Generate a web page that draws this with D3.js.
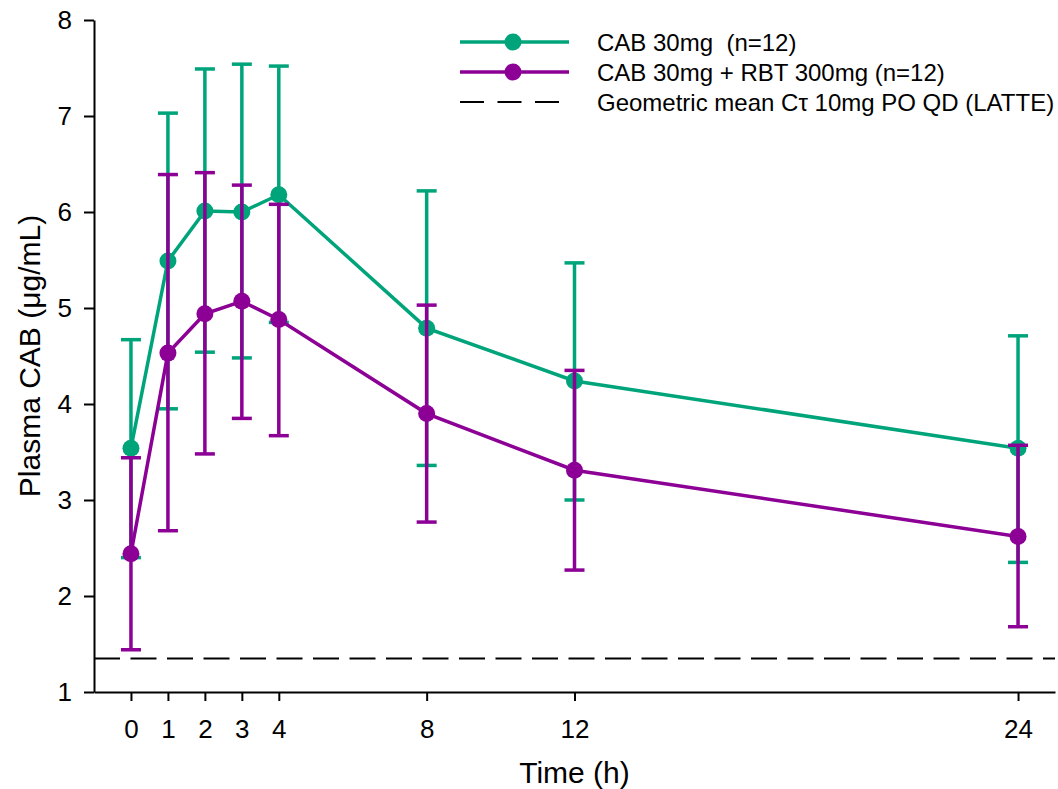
<!DOCTYPE html>
<html>
<head>
<meta charset="utf-8">
<script src="https://cdn.jsdelivr.net/npm/d3@7"></script>
<style>
  body { margin: 0; background: #fff; }
  svg { display: block; font-family: "Liberation Sans", Arial, sans-serif; }
  .axis path, .axis line { stroke: #000; }
  .axis text { fill: #000; }
</style>
</head>
<body>
<div id="chart"></div>
<script>
var times = [0, 1, 2, 3, 4, 8, 12, 24];
var xTicks = [0, 1, 2, 3, 4, 8, 12, 24];
var yTicks = [1, 2, 3, 4, 5, 6, 7, 8];

// CAB 30mg alone
var cabMean  = [3.54, 5.49, 6.01, 6.00, 6.18, 4.79, 4.24, 3.54];
var cabUpper = [4.67, 7.03, 7.49, 7.54, 7.52, 6.22, 5.47, 4.71];
var cabLower = [2.40, 3.95, 4.54, 4.48, 4.85, 3.36, 3.00, 2.35];

// CAB 30mg + RBT 300mg
var rbtMean  = [2.44, 4.53, 4.94, 5.07, 4.88, 3.90, 3.31, 2.62];
var rbtUpper = [3.44, 6.39, 6.41, 6.28, 6.08, 5.03, 4.35, 3.57];
var rbtLower = [1.44, 2.68, 3.48, 3.85, 3.67, 2.77, 2.27, 1.68];

var latteCtau = 1.35;

var series = [
  { name: 'CAB 30mg  (n=12)', color: '#00a47b', mean: cabMean, upper: cabUpper, lower: cabLower },
  { name: 'CAB 30mg + RBT 300mg (n=12)', color: '#8c0096', mean: rbtMean, upper: rbtUpper, lower: rbtLower }
];

var width = 1058, height = 789;
var fontFamily = '"Liberation Sans", Arial, sans-serif';

var x = d3.scaleLinear().domain([-1, 25]).range([94, 1055]);
var y = d3.scaleLinear().domain([1, 8]).range([692, 20]);

var svg = d3.select('#chart').append('svg')
  .attr('width', width)
  .attr('height', height);

// Reference line (LATTE)
svg.append('line')
  .attr('x1', x(-1)).attr('x2', x(25))
  .attr('y1', y(latteCtau)).attr('y2', y(latteCtau))
  .attr('stroke', '#000')
  .attr('stroke-width', 2)
  .attr('stroke-dasharray', '26,10.5');

// Axes
var yAxis = svg.append('g')
  .attr('class', 'axis')
  .attr('transform', 'translate(' + x(-1) + ',0)')
  .call(d3.axisLeft(y).tickValues(yTicks).tickFormat(d3.format('d'))
    .tickSize(10).tickSizeOuter(0).tickPadding(12));
yAxis.attr('font-family', fontFamily).attr('font-size', 26);
yAxis.select('.domain').attr('stroke-width', 2);
yAxis.selectAll('.tick line').attr('stroke-width', 2);

var xAxis = svg.append('g')
  .attr('class', 'axis')
  .attr('transform', 'translate(0,' + y(1) + ')')
  .call(d3.axisBottom(x).tickValues(xTicks).tickFormat(d3.format('d'))
    .tickSize(9).tickSizeOuter(0).tickPadding(19));
xAxis.attr('font-family', fontFamily).attr('font-size', 26);
xAxis.select('.domain').attr('stroke-width', 2);
xAxis.selectAll('.tick line').attr('stroke-width', 2);

// Axis titles
svg.append('text')
  .attr('x', (x(-1) + x(25)) / 2)
  .attr('y', 783)
  .attr('text-anchor', 'middle')
  .attr('font-size', 30)
  .text('Time (h)');

svg.append('text')
  .attr('transform', 'translate(40,' + (y(1) + y(8)) / 2 + ') rotate(-90)')
  .attr('text-anchor', 'middle')
  .attr('font-size', 30)
  .text('Plasma CAB (\u03bcg/mL)');

// Series: error bars, line, markers
var capHalf = 10;

series.forEach(function (s) {
  var g = svg.append('g');
  var pts = times.map(function (t, i) {
    return { t: t, m: s.mean[i], hi: s.upper[i], lo: s.lower[i] };
  });

  g.selectAll('line.err')
      .data(pts)
      .enter()
    .append('line')
      .attr('class', 'err')
      .attr('x1', function (d) { return x(d.t); })
      .attr('x2', function (d) { return x(d.t); })
      .attr('y1', function (d) { return y(d.lo); })
      .attr('y2', function (d) { return y(d.hi); })
      .attr('stroke', s.color)
      .attr('stroke-width', 3.5);

  ['hi', 'lo'].forEach(function (k) {
    g.selectAll('line.cap-' + k)
        .data(pts)
        .enter()
      .append('line')
        .attr('class', 'cap-' + k)
        .attr('x1', function (d) { return x(d.t) - capHalf; })
        .attr('x2', function (d) { return x(d.t) + capHalf; })
        .attr('y1', function (d) { return y(d[k]); })
        .attr('y2', function (d) { return y(d[k]); })
        .attr('stroke', s.color)
        .attr('stroke-width', 3.5);
  });

  g.append('path')
    .datum(pts)
    .attr('fill', 'none')
    .attr('stroke', s.color)
    .attr('stroke-width', 3.5)
    .attr('d', d3.line()
      .x(function (d) { return x(d.t); })
      .y(function (d) { return y(d.m); }));

  g.selectAll('circle')
      .data(pts)
      .enter()
    .append('circle')
      .attr('cx', function (d) { return x(d.t); })
      .attr('cy', function (d) { return y(d.m); })
      .attr('r', 8.5)
      .attr('fill', s.color);
});

// Legend
var legend = svg.append('g');
var legendX1 = 460, legendX2 = 569, legendTextX = 597;
var rowY = [42, 72, 102];

series.forEach(function (s, i) {
  legend.append('line')
    .attr('x1', legendX1).attr('x2', legendX2)
    .attr('y1', rowY[i]).attr('y2', rowY[i])
    .attr('stroke', s.color)
    .attr('stroke-width', 3.5);
  legend.append('circle')
    .attr('cx', (legendX1 + legendX2) / 2 - 1.5)
    .attr('cy', rowY[i])
    .attr('r', 8.5)
    .attr('fill', s.color);
  legend.append('text')
    .attr('x', legendTextX)
    .attr('y', rowY[i] + 8.5)
    .attr('font-size', 24)
    .style('white-space', 'pre')
    .text(s.name);
});

legend.append('line')
  .attr('x1', legendX1).attr('x2', 559)
  .attr('y1', rowY[2]).attr('y2', rowY[2])
  .attr('stroke', '#000')
  .attr('stroke-width', 2)
  .attr('stroke-dasharray', '24,13.5');

var refText = legend.append('text')
  .attr('x', legendTextX)
  .attr('y', rowY[2] + 8.5)
  .attr('font-size', 24);
refText.append('tspan').text('Geometric mean C');
refText.append('tspan').text('\u03c4');
refText.append('tspan').text(' 10mg PO QD (LATTE)');
</script>
</body>
</html>
